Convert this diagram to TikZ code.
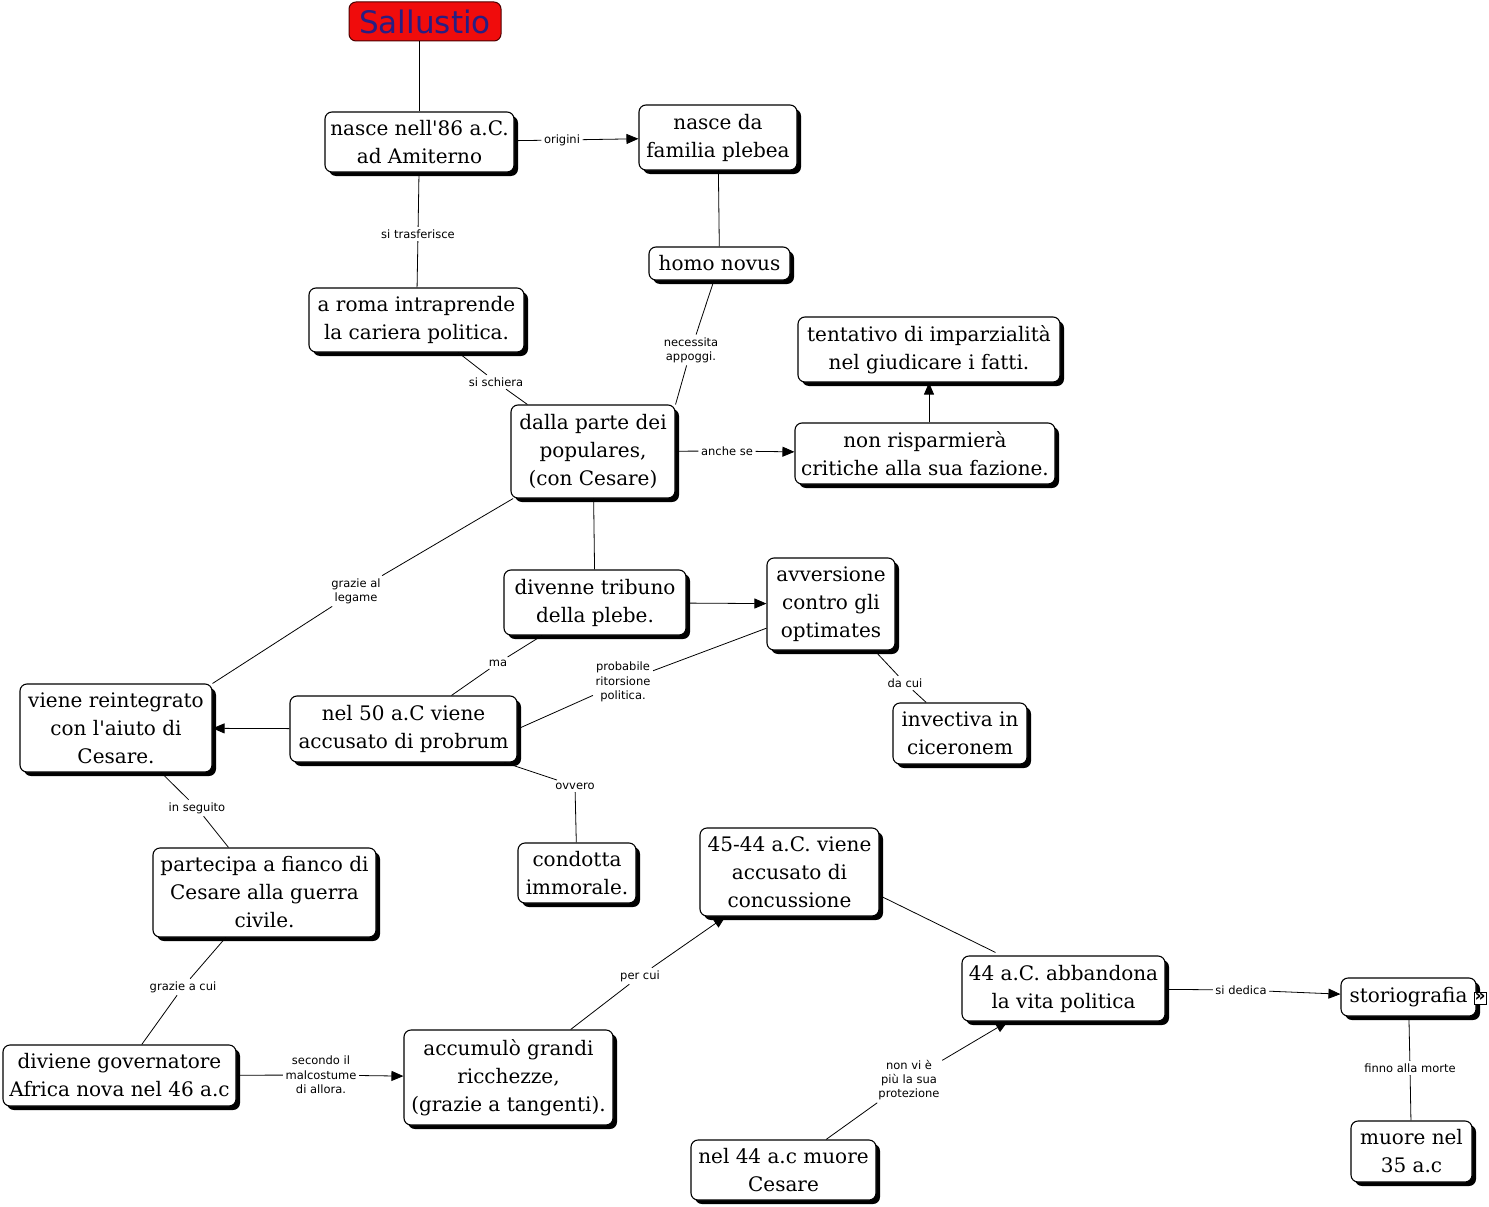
\documentclass[tikz,border=0pt]{standalone}
\usepackage{fontspec}
\setmainfont{DejaVu Serif}[Ligatures=TeXOff]
\newfontfamily\lblfont{DejaVu Sans}
\usetikzlibrary{arrows.meta,shadows,calc}
\definecolor{titlered}{RGB}{240,12,12}
\definecolor{titleblue}{RGB}{40,30,130}
\begin{document}
\begin{tikzpicture}[x=1pt,y=-1pt,
  box/.style={draw=black, line width=1.1pt, fill=white, rounded corners=7pt, align=center, inner sep=0pt,
    font=\fontsize{20}{28}\selectfont,
    drop shadow={shadow xshift=4pt, shadow yshift=-4pt, opacity=1, fill=black}},
  titlebox/.style={draw=black!70!red, line width=1pt, fill=titlered, rounded corners=7pt, inner sep=0pt,
    text=titleblue, font=\lblfont\fontsize{31}{36}\selectfont},
  lbl/.style={font=\lblfont\fontsize{11.5}{14.3}\selectfont, align=center, inner sep=2.5pt},
  edge/.style={line width=0.8pt},
  arr/.style={edge, -{Triangle[length=12pt,width=10pt]}}]
\useasboundingbox (0,0) rectangle (1489,1207);

% nodes
\node[titlebox, minimum width=152pt, minimum height=39pt] (n1) at (425,21.5) {Sallustio};
\node[box, minimum width=189pt, minimum height=60pt] (n2) at (419.5,142) {nasce nell'86 a.C.\\ad Amiterno};
\node[box, minimum width=158pt, minimum height=65pt] (n3) at (718,137.5) {nasce da\\familia plebea};
\node[box, minimum width=141pt, minimum height=33pt] (n4) at (719.5,263.5) {homo novus};
\node[box, minimum width=215pt, minimum height=64pt] (n5) at (416.5,320) {a roma intraprende\\la cariera politica.};
\node[box, minimum width=262pt, minimum height=65pt] (n6) at (929,349.5) {tentativo di imparzialità\\nel giudicare i fatti.};
\node[box, minimum width=164pt, minimum height=93pt] (n7) at (593,451.5) {dalla parte dei\\populares,\\(con Cesare)};
\node[box, minimum width=260pt, minimum height=61pt] (n8) at (925,453.5) {non risparmierà\\critiche alla sua fazione.};
\node[box, minimum width=182pt, minimum height=65pt] (n9) at (595,602.5) {divenne tribuno\\della plebe.};
\node[box, minimum width=128pt, minimum height=92pt] (n10) at (831,604) {avversione\\contro gli\\optimates};
\node[box, minimum width=192pt, minimum height=88pt] (n11) at (116,728) {viene reintegrato\\con l'aiuto di\\Cesare.};
\node[box, minimum width=227pt, minimum height=66pt] (n12) at (403.5,729) {nel 50 a.C viene\\accusato di probrum};
\node[box, minimum width=134pt, minimum height=61pt] (n13) at (960,733.5) {invectiva in\\ciceronem};
\node[box, minimum width=118pt, minimum height=60pt] (n14) at (577,873) {condotta\\immorale.};
\node[box, minimum width=223pt, minimum height=89pt] (n15) at (264.5,892.5) {partecipa a fianco di\\Cesare alla guerra\\civile.};
\node[box, minimum width=179pt, minimum height=88pt] (n16) at (789.5,872) {45-44 a.C. viene\\accusato di\\concussione};
\node[box, minimum width=203pt, minimum height=65pt] (n17) at (1063.5,988.5) {44 a.C. abbandona\\la vita politica};
\node[box, minimum width=135pt, minimum height=38pt] (n18) at (1408.5,997) {storiografia};
\node[box, minimum width=233pt, minimum height=61pt] (n19) at (119.5,1075.5) {diviene governatore\\Africa nova nel 46 a.c};
\node[box, minimum width=209pt, minimum height=95pt] (n20) at (508.5,1077.5) {accumulò grandi\\ricchezze,\\(grazie a tangenti).};
\node[box, minimum width=185pt, minimum height=60pt] (n21) at (783.5,1170) {nel 44 a.c muore\\Cesare};
\node[box, minimum width=121pt, minimum height=61pt] (n22) at (1411.5,1151.5) {muore nel\\35 a.c};
\node[draw, line width=0.6pt, fill=white, inner sep=0pt, minimum width=12pt, minimum height=12pt, font=\lblfont\bfseries\fontsize{17}{17}\selectfont] (icon) at (1480,998) {\raisebox{1pt}{»}};

% labels
\node[lbl] (l1) at (562,140) {origini};
\node[lbl] (l2) at (418,234) {si trasferisce};
\node[lbl] (l3) at (691,350) {necessita\\appoggi.};
\node[lbl] (l4) at (496,382) {si schiera};
\node[lbl] (l5) at (727,451) {anche se};
\node[lbl] (l6) at (356,591) {grazie al\\legame};
\node[lbl] (l7) at (498,663) {ma};
\node[lbl] (l8) at (623,682) {probabile\\ritorsione\\politica.};
\node[lbl] (l9) at (905,683) {da cui};
\node[lbl] (l10) at (575,786) {ovvero};
\node[lbl] (l11) at (197,808) {in seguito};
\node[lbl] (l12) at (183,987) {grazie a cui};
\node[lbl] (l13) at (321,1075) {secondo il\\malcostume\\di allora.};
\node[lbl] (l14) at (640,976) {per cui};
\node[lbl] (l15) at (909,1080) {non vi è\\più la sua\\protezione};
\node[lbl] (l16) at (1241,990) {si dedica};
\node[lbl] (l17) at (1410,1068) {finno alla morte};

% connectors
\draw[edge] (n2.north |- n1.south) -- (n2.north);
\draw[edge] (n2) -- (l1); \draw[arr] (l1) -- (n3);
\draw[edge] (n2) -- (l2); \draw[edge] (l2) -- (n5);
\draw[edge] (n3) -- (n4);
\draw[edge] (n4) -- (l3); \draw[edge] (l3) -- (n7.north east);
\draw[edge] (n5) -- (l4); \draw[edge] (l4) -- (n7);
\draw[edge] (n7) -- (l5); \draw[arr] (l5) -- (n8);
\draw[arr] (n8.north -| n6.south) -- (n6.south);
\draw[edge] (n7) -- (n9);
\draw[edge] (n7) -- (l6); \draw[edge] (l6) -- (n11.north east);
\draw[arr] (n9) -- (n10);
\draw[edge] (n9) -- (l7); \draw[edge] (l7) -- (n12);
\draw[edge] (n10) -- (l8); \draw[edge] (l8) -- (n12.east);
\draw[arr] (n12) -- (n11);
\draw[edge] (n10) -- (l9); \draw[edge] (l9) -- (n13);
\draw[edge] (n12) -- (l10); \draw[edge] (l10) -- (n14);
\draw[edge] (n11) -- (l11); \draw[edge] (l11) -- (n15);
\draw[edge] (n15) -- (l12); \draw[edge] (l12) -- (n19);
\draw[edge] (n19) -- (l13); \draw[arr] (l13) -- (n20);
\draw[edge] (n20) -- (l14); \draw[arr] (l14) -- (n16);
\draw[edge] ($(n16.east)+(3,25)$) -- ($(n17.north)+(-68,-3)$);
\draw[edge] (n21) -- (l15); \draw[arr] (l15) -- (n17);
\draw[edge] (n17) -- (l16); \draw[arr] (l16) -- (n18);
\draw[edge] (n18) -- (l17); \draw[edge] (l17) -- (n22);
\end{tikzpicture}
\end{document}
